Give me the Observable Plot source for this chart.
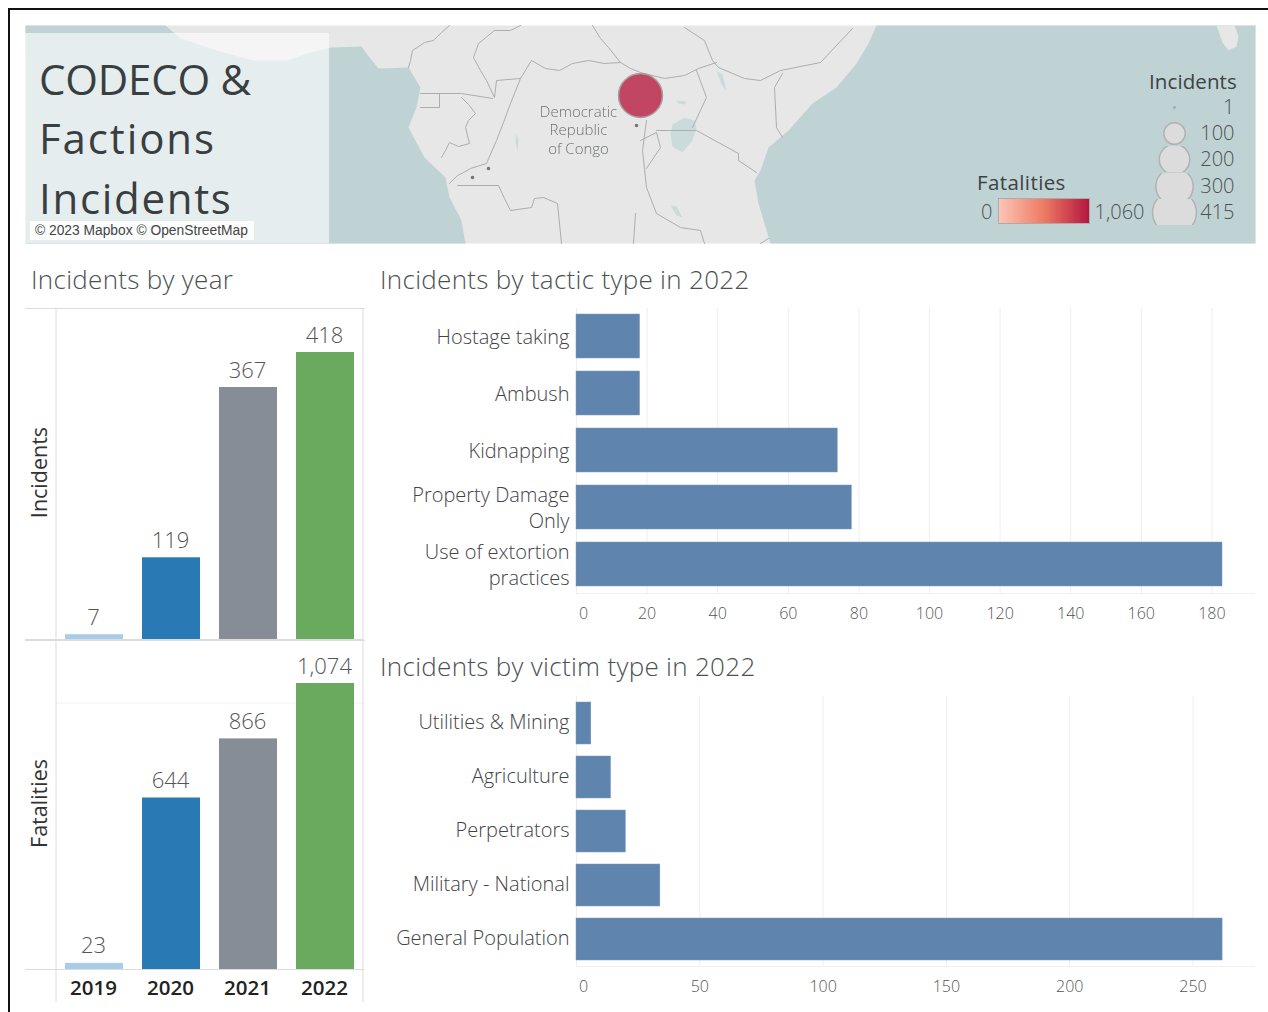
<!DOCTYPE html>
<html><head><meta charset="utf-8">
<script src="https://cdn.jsdelivr.net/npm/d3@7"></script>
<script src="https://cdn.jsdelivr.net/npm/@observablehq/plot@0.6"></script>
<style>
html,body{margin:0;padding:0;background:#fff;overflow:hidden}
#page{position:relative;width:1268px;height:1012px;overflow:hidden;font-family:"Open Sans","Noto Sans",sans-serif}
.frame{position:absolute;left:8px;top:8px;right:-5px;bottom:-5px;border-left:2px solid #111;border-top:2px solid #111}
.t{position:absolute;white-space:nowrap;color:#4b5052;font-weight:300}
.p{position:absolute}
.p svg{display:block}
</style></head><body><div id="page"><div class="frame"></div></div>
<script>
const FONT = '"Open Sans","Noto Sans",sans-serif';
// ---- chart data
const years = [2019, 2020, 2021, 2022];
const incidentsByYear = [7, 119, 367, 418];
const fatalitiesByYear = [23, 644, 866, 1074];
const yearColors = ["#a9cde9", "#2879b4", "#868d97", "#69aa5f"];
const tacticTypes = ["Hostage taking", "Ambush", "Kidnapping", "Property Damage\nOnly", "Use of extortion\npractices"];
const tacticCounts = [18, 18, 74, 78, 183];
const tacticTicks = [0, 20, 40, 60, 80, 100, 120, 140, 160, 180];
const victimTypes = ["Utilities & Mining", "Agriculture", "Perpetrators", "Military - National", "General Population"];
const victimCounts = [6, 14, 20, 34, 262];
const victimTicks = [0, 50, 100, 150, 200, 250];
const sizeLegend = [1, 100, 200, 300, 415];
// ---- map locations (map grid units), with incident counts
const events = [
  {mx: 640, my: 95, incidents: 418},
  {mx: 636, my: 125, incidents: 1},
  {mx: 488, my: 168, incidents: 1},
  {mx: 472, my: 177, incidents: 1}
];
const placeLabels = [
  {mx: 578, my: 112, name: "Democratic"},
  {mx: 578, my: 130, name: "Republic"},
  {mx: 578, my: 149, name: "of Congo"}
];
// ---- basemap outlines (map grid units)
const westOcean = [[25,25],[165,25],[180,38],[216,50],[253,60],[286,60],[310,52],[331,47],[361,46],[369,57],[378,68],[408,67],[420,87],[416,107],[408,127],[424,157],[445,177],[449,197],[461,220],[465,243],[25,243]];
const eastOcean = [[876,25],[868,43],[856,63],[836,87],[812,103],[788,130],[768,147],[760,170],[754,180],[758,203],[770,243],[1255,243],[1255,25]];
const island = [[1216,25],[1222,42],[1228,50],[1236,46],[1238,36],[1234,25]];
const lakes = [
  [[672,124],[684,117],[694,120],[696,128],[692,140],[682,152],[672,146],[670,134]],
  [[716,70],[722,74],[726,90],[721,84]],
  [[670,205],[676,206],[682,217],[676,215]],
  [[516,133],[518,140],[517,150],[515,142]],
  [[676,100],[686,101],[684,104],[678,103]]
];
const borders = [
  [[449,25],[441,32],[433,40],[424,42],[412,50],[410,60],[408,67]],
  [[494,30],[478,43],[473,57],[480,70],[486,80],[494,97]],
  [[420,93],[461,93],[492,98]],
  [[439,93],[439,107],[420,107]],
  [[461,97],[468,104],[475,113],[468,120],[465,127],[469,143],[458,146],[449,142],[445,150],[441,157]],
  [[494,97],[496,80],[520,78],[510,103],[503,122],[496,140],[486,163],[470,168],[463,172],[457,175],[449,183]],
  [[520,78],[531,60],[545,68],[559,70],[572,63],[588,60],[604,63],[620,62],[630,68],[640,72],[664,78],[684,75],[698,68],[716,62]],
  [[520,25],[510,30],[494,30]],
  [[592,25],[600,38],[608,47],[620,62]],
  [[457,185],[498,185],[504,198],[510,210],[531,207],[534,198],[543,197],[557,203],[561,243]],
  [[635,213],[633,243]],
  [[684,27],[704,40],[712,60],[718,67],[744,78],[760,80],[780,70],[820,62],[852,28]],
  [[696,70],[706,97],[692,127]],
  [[782,73],[774,87],[776,127],[782,137]],
  [[656,130],[696,130],[738,153],[738,160],[756,172]],
  [[646,120],[642,150],[646,187],[656,213],[680,227],[700,230],[704,243]],
  [[640,140],[656,132],[660,147],[646,168]],
  [[768,238],[760,243]]
];

const page = document.getElementById("page");
const LAND = "#e7e7e7", SEA = "#c0d3d4", RULE = "#dcdcdc";

function place(el, left, top) {
  const d = document.createElement("div");
  d.className = "p"; d.style.left = left + "px"; d.style.top = top + "px";
  d.appendChild(el); page.appendChild(d);
}
function label(text, left, cy, size, color, extra) {
  const d = document.createElement("div");
  d.className = "t"; d.textContent = text;
  const lh = Math.round(size * 1.1);
  d.style.left = left + "px"; d.style.top = (cy - lh / 2) + "px";
  d.style.lineHeight = lh + "px"; d.style.fontSize = size + "px";
  if (color) d.style.color = color;
  Object.assign(d.style, extra || {});
  page.appendChild(d);
}
const base = {style: {background: "transparent", fontFamily: FONT, overflow: "visible"}};

// ---- map panel
place(Plot.plot({
  ...base, style: {...base.style, filter: "blur(0.5px)"}, width: 1230, height: 218, margin: 0,
  x: {domain: [25, 1255], range: [0, 1230], axis: null},
  y: {domain: [25, 243], range: [0, 218], axis: null},
  r: {type: "sqrt", domain: [0, 418], range: [0, 22]},
  marks: [
    Plot.frame({fill: LAND, stroke: "none"}),
    Plot.line(westOcean, {x: "0", y: "1", fill: SEA, stroke: "none"}),
    Plot.line(eastOcean, {x: "0", y: "1", fill: SEA, stroke: "none"}),
    Plot.line(island, {x: "0", y: "1", fill: LAND, stroke: "none"}),
    ...lakes.map(l => Plot.line(l, {x: "0", y: "1", fill: "#cbdbdc", stroke: "none"})),
    ...borders.map(b => Plot.line(b, {x: "0", y: "1", stroke: "#adadad", strokeWidth: 1, curve: "linear"})),
    Plot.rect([0], {x1: 25, x2: 329, y1: 33, y2: 243, fill: "#fff", fillOpacity: 0.6}),
    Plot.text(placeLabels, {x: "mx", y: "my", text: "name", fontSize: 15, fontWeight: 300, fill: "#6f7273"}),
    Plot.dot(events, {x: "mx", y: "my", r: "incidents", fill: d => d.incidents > 1 ? "#bf405f" : "#777", stroke: d => d.incidents > 1 ? "#a9a0a0" : "#777", fillOpacity: 0.96})
  ]
}), 25, 25);

label("CODECO &", 39, 79, 42, "#393e40", {fontWeight: 400, letterSpacing: "-0.2px"});
label("Factions", 39, 138, 42, "#393e40", {fontWeight: 400, letterSpacing: "1.9px"});
label("Incidents", 39, 198, 42, "#393e40", {fontWeight: 400, letterSpacing: "1.7px"});
const attr = document.createElement("div");
attr.className = "t"; attr.textContent = "\u00a9 2023 Mapbox \u00a9 OpenStreetMap";
Object.assign(attr.style, {left: "30px", top: "221px", width: "219px", height: "19px", lineHeight: "19px", paddingLeft: "5px", background: "rgba(255,255,255,.85)", color: "#444", fontSize: "13.8px", fontWeight: 400, fontFamily: '"Liberation Sans",sans-serif'});
page.appendChild(attr);

// ---- map legends
label("Incidents", 1149, 81, 20.5, "#3d4244", {fontWeight: 400, letterSpacing: "0.1px"});
label("Fatalities", 977, 182, 20.5, "#3d4244", {fontWeight: 400, letterSpacing: "0.4px"});
sizeLegend.forEach((v, i) => {
  place(Plot.plot({
    ...base, width: 85, height: 26, margin: 0,
    x: {axis: null}, y: {axis: null},
    r: {type: "sqrt", domain: [0, 418], range: [0, 22]},
    marks: [
      Plot.dot([v], {r: d => d, frameAnchor: "left", dx: 25, fill: v === 1 ? "#a3adae" : "#dcdcdc", stroke: v === 1 ? "#a3adae" : "#b2b2b2", strokeWidth: v === 1 ? 1 : 1.5, clip: true}),
      Plot.text([v], {text: d => String(d), frameAnchor: "right", fontSize: 20, fontWeight: 300, fill: "#4b5052"})
    ]
  }), 1149, [94, 120, 146, 173, 199][i]);
});
place(Plot.plot({
  ...base, width: 180, height: 25, marginTop: 0, marginBottom: 0, marginLeft: 21, marginRight: 68,
  x: {domain: [0, 1060], axis: null},
  color: {type: "linear", domain: [0, 530, 1060], range: ["#fcc6b6", "#ee7a63", "#b2163f"]},
  marks: [
    Plot.rect(d3.range(0, 1060, 10), {x1: d => d, x2: d => d + 10, fill: d => d, shapeRendering: "crispEdges"}),
    Plot.frame({stroke: "#ababab"}),
    Plot.text([0], {x: d => d, frameAnchor: "middle", dx: -6, dy: 2, textAnchor: "end", fontSize: 20, fontWeight: 300, fill: "#4b5052"}),
    Plot.text([1060], {x: d => d, text: d => d3.format(",")(d), frameAnchor: "middle", dx: 5, dy: 2, textAnchor: "start", fontSize: 20, fontWeight: 300, fill: "#4b5052"})
  ]
}), 977, 198);

// ---- section titles
const titleExtra = {letterSpacing: "0.3px"};
label("Incidents by year", 31, 279, 26, null, titleExtra);
label("Incidents by tactic type in 2022", 380, 279, 26, null, titleExtra);
label("Incidents by victim type in 2022", 380, 666, 26, null, titleExtra);

// ---- left column
function yearPanel(values, name, top, height, yRange, maxVal, grid, showYears, marginBottom, nameDy) {
  const rows = years.map((y, i) => ({year: y, value: values[i], color: yearColors[i]}));
  const marks = [
    ...(grid ? [Plot.ruleY(grid, {stroke: "#f3f3f3", insetLeft: 31})] : []),
    Plot.barY(rows, {x: "year", y: "value", fill: "color"}),
    Plot.text(rows, {x: "year", y: "value", text: d => d3.format(",")(d.value), dx: -1, dy: -17, fontSize: 22, fontWeight: 300, fill: "#555"}),
    Plot.ruleY([0], {stroke: RULE}),
    Plot.frame({anchor: "top", stroke: RULE}),
    Plot.ruleX([years[0]], {x: d => d, dx: -38.5, stroke: RULE}),
    Plot.ruleX([years[3]], {x: d => d, dx: 37.5, stroke: RULE}),
    Plot.text([name], {text: d => d, frameAnchor: "left", textAnchor: "middle", dx: 15, dy: nameDy, rotate: -90, fontSize: 21.5, fill: "#333"})
  ];
  if (showYears) marks.push(Plot.text(years, {x: d => d, y: 0, text: d => String(d), dx: -1, dy: 19, fontSize: 20.5, fontWeight: 600, fill: "#222"}));
  place(Plot.plot({
    ...base, width: 339, height, marginTop: 0, marginRight: 0, marginLeft: 0, marginBottom,
    x: {type: "band", domain: years, range: [31, 339], paddingInner: 0.244, paddingOuter: 0.122, axis: null},
    y: {domain: [0, maxVal], range: yRange, axis: null},
    marks
  }), 25, top);
}
yearPanel(incidentsByYear, "Incidents", 308, 332, [331, 44], 418, null, false, 0, -2);
yearPanel(fatalitiesByYear, "Fatalities", 640, 372, [329, 43], 1074, [1000], true, 10, -18);

// ---- right column
function hbar(cats, vals, ticks, xMax, top, height, bandBottom, tickDy, labelDy) {
  const rows = cats.map((c, i) => ({cat: c, value: vals[i]}));
  place(Plot.plot({
    ...base, width: 874, height, marginTop: 0, marginLeft: 196, marginRight: 0, marginBottom: height - bandBottom,
    x: {domain: [0, xMax], range: [196, 874], axis: null},
    y: {type: "band", domain: cats, paddingInner: 0.224, paddingOuter: 0.112, axis: null},
    marks: [
      Plot.gridX(ticks, {stroke: "#eeeeee", strokeOpacity: 1}),
      Plot.frame({anchor: "bottom", stroke: "#f0f0f0"}),
      Plot.barX(rows, {x: "value", y: "cat", fill: "#5f85ae", stroke: "#7d98b8", strokeWidth: 0.5}),
      Plot.axisY({anchor: "left", tickSize: 0, tickPadding: 7, dy: labelDy, fontSize: 20, fontWeight: 300, lineHeight: 1.3, fill: "#3f4446", label: null}),
      Plot.axisX(ticks.slice(1), {anchor: "bottom", tickSize: 0, tickPadding: tickDy, fontSize: 16, fontWeight: 300, fill: "#555", label: null}),
      Plot.axisX([0], {anchor: "bottom", tickSize: 0, tickPadding: tickDy, dx: 7, fontSize: 16, fontWeight: 300, fill: "#555", label: null})
    ]
  }), 380, top);
}
hbar(tacticTypes, tacticCounts, tacticTicks, 678 / 3.53, 308, 330, 285, 14, -0.5);
hbar(victimTypes, victimCounts, victimTicks, 678 / 2.466, 696, 316, 270, 14, -3);
</script></body></html>
